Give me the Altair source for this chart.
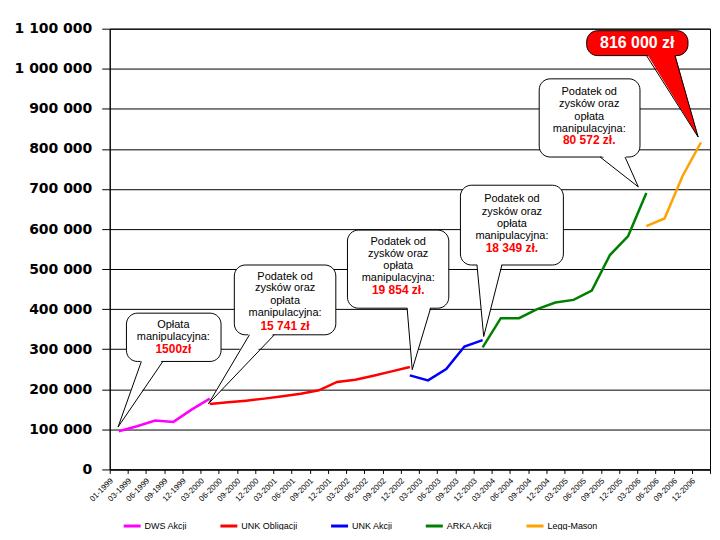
import json
import altair as alt
import pandas as pd

# ---------------- data ----------------
months = ["01-1999", "03-1999", "06-1999", "09-1999", "12-1999",
          "03-2000", "06-2000", "09-2000", "12-2000",
          "03-2001", "06-2001", "09-2001", "12-2001",
          "03-2002", "06-2002", "09-2002", "12-2002",
          "03-2003", "06-2003", "09-2003", "12-2003",
          "03-2004", "06-2004", "09-2004", "12-2004",
          "03-2005", "06-2005", "09-2005", "12-2005",
          "03-2006", "06-2006", "09-2006", "12-2006"]

series_names = ["DWS Akcji", "UNK Obligacji", "UNK Akcji", "ARKA Akcji", "Legg-Mason"]
series_colors = ["#FF00FF", "#FF0000", "#0000FF", "#008000", "#FFA200"]

dws_start = 0
dws_values = [95300, 107800, 122000, 118700, 149300, 176700]
unk_obl_start = 5
unk_obl_values = [163500, 167500, 171700, 176700, 182400, 189100, 197400,
                  218300, 224000, 234000, 244700, 255600]
unk_akcji_start = 16
unk_akcji_values = [234700, 222300, 250500, 306700, 322600]
arka_start = 20
arka_values = [304400, 377500, 377500, 400000, 416400, 423100, 446300,
               535100, 582400, 690100]
legg_start = 29
legg_values = [607200, 626400, 733000, 816000]

y_ticks = list(range(0, 1100001, 100000))

# callout texts
c1_text = ["Opłata", "manipulacyjna:"]
c1_value = "1500zł"
tax_text = ["Podatek od", "zysków oraz", "opłata", "manipulacyjna:"]
c2_value = "15 741 zł"
c3_value = "19 854 zł."
c4_value = "18 349 zł."
c5_value = "80 572 zł."
c6_value = "816 000 zł"

# ---------------- build tables ----------------
rows = []
for name, start, vals in [(series_names[0], dws_start, dws_values),
                          (series_names[1], unk_obl_start, unk_obl_values),
                          (series_names[2], unk_akcji_start, unk_akcji_values),
                          (series_names[3], arka_start, arka_values),
                          (series_names[4], legg_start, legg_values)]:
    for k, v in enumerate(vals):
        rows.append({"series": name, "idx": start + k, "value": v})
df = pd.DataFrame(rows)

# callout layout (annotation placement in data units: category index / value)
callouts = [
    dict(id="c1", x0=0.92, x1=6.12, y0=269500, y1=390000, b0=1.74, b1=2.92,
         tx=0.46, ty=106000, fill="white", cx=3.5,
         lines=c1_text, ly=[360900, 330200], val=c1_value, vy=300400),
    dict(id="c2", x0=6.85, x1=12.43, y0=336000, y1=510200, b0=7.68, b1=9.05,
         tx=5.43, ty=164000, fill="white", cx=9.64,
         lines=tax_text, ly=[481000, 452200, 421400, 390000], val=c2_value, vy=358400),
    dict(id="c3", x0=13.07, x1=18.64, y0=402400, y1=597300, b0=16.35, b1=17.64,
         tx=16.63, ty=249000, fill="white", cx=15.86,
         lines=tax_text, ly=[568200, 538300, 508400, 477100], val=c3_value, vy=448700),
    dict(id="c4", x0=19.28, x1=24.94, y0=510200, y1=709300, b0=20.19, b1=21.56,
         tx=20.56, ty=331700, fill="white", cx=22.11,
         lines=tax_text, ly=[673700, 642800, 612200, 582400], val=c4_value, vy=551700),
    dict(id="c5", x0=23.61, x1=29.15, y0=779700, y1=974800, b0=26.96, b1=28.33,
         tx=29.06, ty=705100, fill="white", cx=26.36,
         lines=tax_text, ly=[941500, 910900, 879300, 849400], val=c5_value, vy=823000),
]
big = dict(id="c6", x0=26.22, x1=31.79, y0=1032800, y1=1095000, b0=29.51, b1=31.07,
           tx=32.35, ty=829500, fill="#FF0000", cx=29.0, vy=1063400, val=c6_value)


def vseg(tri, x):
    ys = []
    for i in range(3):
        (px, py), (qx, qy) = tri[i], tri[(i + 1) % 3]
        if min(px, qx) - 1e-9 <= x <= max(px, qx) + 1e-9:
            if abs(px - qx) < 1e-9:
                ys += [py, qy]
            else:
                ys.append(py + (x - px) * (qy - py) / (qx - px))
    return min(ys), max(ys)


rect_rows, tri_rows, edge_rows, txt_rows, val_rows = [], [], [], [], []
for c in callouts + [big]:
    rect_rows.append({"id": c["id"], "x0": c["x0"], "x1": c["x1"],
                      "y0": c["y0"], "y1": c["y1"], "fill": c["fill"]})
    inset = 6000
    tri = [(c["b0"], c["y0"] + inset), (c["b1"], c["y0"] + inset), (c["tx"], c["ty"])]
    for x in sorted(set(p[0] for p in tri)):
        lo, hi = vseg(tri, x)
        tri_rows.append({"id": c["id"], "x": x, "lo": lo, "hi": hi, "fill": c["fill"]})
    for j, b in enumerate([c["b0"], c["b1"]]):
        eid = f'{c["id"]}_{j}'
        edge_rows.append({"eid": eid, "x": b, "y": c["y0"]})
        edge_rows.append({"eid": eid, "x": c["tx"], "y": c["ty"]})
    for t, yy in zip(c.get("lines", []), c.get("ly", [])):
        txt_rows.append({"x": c["cx"], "y": yy, "t": t})
    if c["id"] != "c6":
        val_rows.append({"x": c["cx"], "y": c["vy"], "t": c["val"]})

rect_df = pd.DataFrame(rect_rows)
tri_df = pd.DataFrame(tri_rows)
edge_df = pd.DataFrame(edge_rows)
txt_df = pd.DataFrame(txt_rows)
val_df = pd.DataFrame(val_rows)
big_df = pd.DataFrame([{"x": big["cx"], "y": big["vy"], "t": big["val"]}])

# ---------------- chart ----------------
FONT = "Liberation Sans"
xscale = alt.Scale(domain=[0, 33], nice=False, zero=False)
yscale = alt.Scale(domain=[0, 1100000], nice=False)

x_label_expr = "datum.value < 33 ? " + json.dumps(months) + "[datum.value] : ''"

X_AXIS = alt.Axis(values=list(range(0, 34)), labelExpr=x_label_expr,
                  labelAngle=-45, labelAlign="right", labelBaseline="middle",
                  labelFont=FONT, labelFontSize=8, labelColor="black",
                  labelPadding=6, labelOffset=2, tickSize=4, tickColor="black",
                  domainColor="black", grid=False, title=None,
                  labelOverlap=False, labelBound=False, labelFlush=False)
Y_AXIS = alt.Axis(values=y_ticks,
                  labelExpr="replace(replace(format(datum.value, ','), ',', ' '), ',', ' ')",
                  labelFont="DejaVu Sans", labelFontWeight="bold", labelFontSize=14,
                  labelColor="black", labelPadding=10, tickSize=8,
                  tickColor="black", domainColor="black", grid=True,
                  gridColor="black", gridOpacity=1, gridWidth=1, title=None,
                  labelFlush=False, labelOverlap=False)


def X(field):
    return alt.X(field, scale=xscale, axis=X_AXIS, title=None)


def Y(field, **kw):
    return alt.Y(field, scale=yscale, axis=Y_AXIS, title=None, **kw)


lines = alt.Chart(df).transform_calculate(
    xpos="datum.idx + 0.5"
).mark_line(strokeWidth=2.5).encode(
    x=X("xpos:Q"),
    y=Y("value:Q"),
    color=alt.Color("series:N",
                    scale=alt.Scale(domain=series_names, range=series_colors),
                    legend=alt.Legend(orient="none", legendX=12, legendY=488,
                                      direction="horizontal", columns=5, title=None,
                                      symbolType="stroke", symbolStrokeWidth=3,
                                      symbolSize=290, labelFont=FONT, labelFontSize=9,
                                      labelColor="black", labelOffset=2,
                                      columnPadding=26, padding=0)),
    detail="series:N",
)

rects = alt.Chart(rect_df).mark_rect(cornerRadius=11, stroke="black", strokeWidth=1).encode(
    x=X("x0:Q"), x2="x1:Q",
    y=Y("y0:Q"), y2="y1:Q",
    fill=alt.Fill("fill:N", scale=None),
)

tris = alt.Chart(tri_df).mark_area(interpolate="linear").encode(
    x=X("x:Q"),
    y=Y("lo:Q", stack=None), y2="hi:Q",
    fill=alt.Fill("fill:N", scale=None),
    detail="id:N",
)

edges = alt.Chart(edge_df).mark_line(color="black", strokeWidth=1).encode(
    x=X("x:Q"),
    y=Y("y:Q"),
    detail="eid:N",
)

texts = alt.Chart(txt_df).mark_text(font=FONT, fontSize=11, color="black",
                                   align="center", baseline="middle").encode(
    x=X("x:Q"), y=Y("y:Q"), text="t:N",
)

vals = alt.Chart(val_df).mark_text(font=FONT, fontSize=12, fontWeight="bold",
                                  color="#FF0000", align="center", baseline="middle").encode(
    x=X("x:Q"), y=Y("y:Q"), text="t:N",
)

bigtext = alt.Chart(big_df).mark_text(font=FONT, fontSize=16, fontWeight="bold",
                                     color="white", align="center", baseline="middle").encode(
    x=X("x:Q"), y=Y("y:Q"), text="t:N",
)

chart = alt.layer(lines, rects, tris, edges, texts, vals, bigtext).properties(
    width=602, height=442,
    padding={"left": 102, "top": 20, "right": 2, "bottom": 60},
    autosize=alt.AutoSizeParams(type="none"),
    background="white",
).configure_view(stroke="black", strokeWidth=1)

chart.save("out.html", embed_options={"renderer": "svg", "actions": False})
